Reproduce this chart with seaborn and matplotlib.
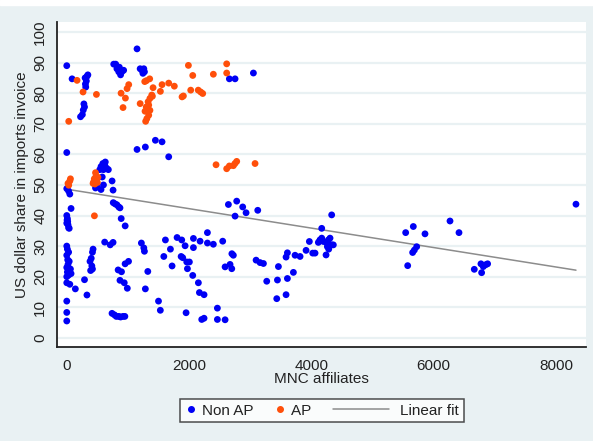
import numpy as np
import pandas as pd
import matplotlib
matplotlib.use("Agg")
import matplotlib.pyplot as plt
from matplotlib.lines import Line2D
from matplotlib.patches import Rectangle
from matplotlib.legend_handler import HandlerBase
import seaborn as sns

# Non AP points (MNC affiliates, USD share)
nonap_x = [1149, 0, 768, 800, 820, 850, 880, 900, 930, 860,
           1200, 1230, 1260, 1245, 1270, 87, 300, 330, 345, 320, 305, 310,
           280, 290, 270, 255, 225, 0,
           1149, 1285, 1449, 1558, 1667,
           560, 590, 620, 650, 680, 540, 600, 630,
           580, 600, 490, 470, 560, 741, 757, 0, 30, 50, 70,
           0, 10, 5, 15, 0, 20, 30, 40,
           760, 790, 820, 850, 870, 890, 955, 620, 710, 757,
           0, 10, 30, 0, 15, 40, 20, 0, 60, 10, 70, 0, 30, 50, 0,
           1220, 1260, 1270, 1613, 1695, 1587, 1722, 1804, 1870,
           430, 420, 400, 380, 410, 420, 390,
           840, 895, 954, 1010, 870, 940, 990,
           290, 330, 140, 1285, 1325, 0, 0, 0, 1500, 1530,
           740, 780, 810, 850, 880, 920, 950,
           2659, 2752, 3052, 2643, 2779, 2877, 2932, 2752, 3123,
           1880, 1935, 2071, 2071, 2180, 2300, 2300, 2397, 2550,
           1896, 1962, 2005, 1973, 2060, 2152, 2169, 2245, 1951, 2207, 2245, 2463, 2463, 2589,
           2589, 2670, 2698, 2724, 2700,
           3096, 3161, 3216, 3270, 3445, 3461, 3434, 3586, 3608, 3706, 3586, 3608, 3733, 3815,
           3913, 3967, 4022, 4142,
           4060, 4169, 4332, 4141, 4169, 4114, 4196, 4250, 4278, 4305, 4262, 4284, 4332, 4359, 4240,
           5542, 5667, 5858, 5575, 5656, 5684, 5722, 6267, 6414,
           6664, 6773, 6784, 6811, 6850, 6882, 8327]
nonap_y = [94.5, 89, 89.5, 89.5, 88, 87, 86, 87, 87.5, 88.5,
           88, 87.5, 88, 86.5, 87, 84.7, 85, 85.5, 86, 84, 83, 82,
           76.5, 75.5, 74.5, 73, 72.3, 60.6,
           61.6, 62.4, 64.6, 64.1, 59.2,
           56, 57, 56.5, 55.5, 55, 55, 55, 57.5,
           52.6, 50, 49.5, 49, 48.5, 51.3, 48.3, 48.8, 48, 47, 42.3,
           40, 39, 38.5, 38, 37.5, 37, 36, 35.8,
           44.2, 43.8, 43.5, 42.8, 42.5, 39, 36.6, 31.3, 30.4, 31.2,
           30, 29, 28, 27, 25.5, 25, 24, 23, 22.5, 21.5, 21, 20, 20.5, 17.5, 18,
           31, 29.4, 28.3, 32, 29, 26.6, 23.5, 32.8, 26.6,
           29, 28, 26, 25, 23.5, 22.5, 22,
           22.2, 21.6, 24.2, 25, 18.8, 18, 16.2,
           19, 14, 16, 16, 21.7, 12, 8.3, 5.5, 12, 9,
           8, 7.5, 7, 7, 6.8, 7, 7,
           84.7, 84.7, 86.6, 43.6, 44.7, 42.8, 40.9, 39.8, 41.7,
           32, 30.1, 32.5, 29.5, 31.6, 34.4, 31, 30.6, 31.6,
           26.2, 24.8, 24.8, 22.6, 20.4, 18, 14.8, 14.1, 8.2, 6, 6.4, 9.7, 6, 5.9,
           23.2, 24, 22.6, 27, 27.5,
           25.4, 24.6, 24.3, 18.5, 18.9, 23.3, 12.8, 14.1, 19.4, 21.4, 26.4, 27.8, 27, 26.6,
           28.6, 31.5, 27.7, 31.9,
           27.7, 35.8, 40.2, 32, 32.6, 31.2, 31.5, 31, 32, 32.6, 29.8, 29, 30.4, 30.4, 27.1,
           34.4, 36.4, 34, 23.6, 27.9, 28.7, 29.8, 38.2, 34.4,
           22.4, 24.2, 21.3, 23.3, 23.9, 24.2, 43.7]

# AP points
ap_x = [168, 266, 485, 32, 888, 986, 1013, 959, 920,
        1302, 1356, 1275, 1411, 1531, 1558, 1667, 1759, 1885,
        1200, 1280, 1300, 1330, 1360, 1390, 1340, 1360, 1340, 1310, 1290, 1400,
        32, 50, 20, 60, 430, 450, 470, 440, 490, 460, 480, 500, 510, 452,
        1989, 2060, 1907, 2027, 2150, 2190, 2223, 2397, 2615, 2615,
        2441, 2615, 2659, 2724, 2779, 2750, 3079]
ap_y = [84.2, 80.4, 79.6, 70.8, 80, 81.5, 82.8, 78.4, 75.3,
        84.1, 84.7, 83.8, 81.8, 80.6, 82.8, 83.3, 82.3, 78.8,
        76.6, 74.1, 75.5, 77.2, 78.3, 79.4, 76.1, 74.4, 72.8, 71.7, 70.8, 79,
        49.9, 51.3, 50.5, 52, 50.5, 52, 54, 51, 51.5, 50.3, 53, 50.8, 52.5, 39.9,
        89.1, 85.8, 79.1, 81, 81, 80.4, 79.9, 86.2, 89.6, 86.6,
        56.6, 55.3, 56.2, 56.3, 57.7, 57, 57]

# linear fit
fit_intercept = 48.6
fit_slope = -0.00318

groups = ["Non AP", "AP"]
colors = {"Non AP": "#0000f5", "AP": "#ff4f0a"}
fit_color = "#8c8c8c"

df = pd.DataFrame({
    "mnc": nonap_x + ap_x,
    "usd": nonap_y + ap_y,
    "group": ["Non AP"] * len(nonap_x) + ["AP"] * len(ap_x),
})

bg = "#e9f1f3"
ink = "#222222"
sns.set_style("white")
plt.rcParams["font.family"] = ["Liberation Sans", "DejaVu Sans"]

fig = plt.figure(figsize=(5.93, 4.41), dpi=100, facecolor=bg)
fig.add_artist(Rectangle((0, 1 - 5 / 441), 1, 5 / 441, transform=fig.transFigure,
                         color="white", zorder=0))
ax = fig.add_axes([0.0961, 0.2132, 0.892, 0.737])
ax.set_facecolor("white")

ax.set_ylim(-3, 103.3)
ax.set_xlim(-160, 8490)
ax.set_yticks(np.arange(0, 101, 10))
ax.set_xticks([0, 2000, 4000, 6000, 8000])
ax.yaxis.grid(True, color=bg, linewidth=1.6)
ax.set_axisbelow(True)

# fit line
xs = np.array([0, df["mnc"].max()])
ax.plot(xs, fit_intercept + fit_slope * xs, color=fit_color, linewidth=1.1, zorder=3)

sns.scatterplot(data=df, x="mnc", y="usd", hue="group", palette=colors,
                hue_order=groups, s=24, linewidth=0, marker="o", legend=False,
                ax=ax, zorder=4)

for side in ["top", "right"]:
    ax.spines[side].set_visible(False)
for side in ["left", "bottom"]:
    ax.spines[side].set_color(ink)
    ax.spines[side].set_linewidth(1.3)

ax.tick_params(axis="both", direction="out", length=5, width=1, color=ink,
               labelsize=11, labelcolor=ink, pad=2)
ax.tick_params(axis="x", pad=4)
for lab in ax.get_yticklabels():
    lab.set_rotation(90)
    lab.set_va("center")

ax.set_xlabel("MNC affiliates", fontsize=11, color=ink, labelpad=-1)
ax.set_ylabel("US dollar share in imports invoice", fontsize=11, color=ink, labelpad=3)


# long sample line for the fit entry, reaching back to the left
class LongLine(HandlerBase):
    def create_artists(self, legend, orig_handle, xdescent, ydescent,
                       width, height, fontsize, trans):
        y = height / 2 - ydescent
        x1 = -xdescent + width - 3.6
        x0 = x1 - 40
        line = Line2D([x0, x1], [y, y], color=orig_handle.get_color(),
                      linewidth=orig_handle.get_linewidth())
        line.set_transform(trans)
        return [line]


fit_handle = Line2D([], [], color=fit_color, linewidth=1.1)
handles = [
    Line2D([], [], marker="o", linestyle="none", color=colors["Non AP"], markersize=4),
    Line2D([], [], marker="o", linestyle="none", color=colors["AP"], markersize=4),
    fit_handle,
]
labels = ["Non AP", "AP" + "\u00a0" * 12, "Linear fit"]
leg = fig.legend(handles, labels, loc="center",
                 bbox_to_anchor=(0.543, 0.069), ncol=3, fontsize=11,
                 frameon=True, fancybox=False, handlelength=0.72,
                 columnspacing=1.34, handletextpad=0.39, borderpad=0.32,
                 handler_map={fit_handle: LongLine()})
leg.get_frame().set_edgecolor(ink)
leg.get_frame().set_linewidth(1.1)
for t in leg.get_texts():
    t.set_color(ink)

fig.savefig("out.png", dpi=100, facecolor=bg)
